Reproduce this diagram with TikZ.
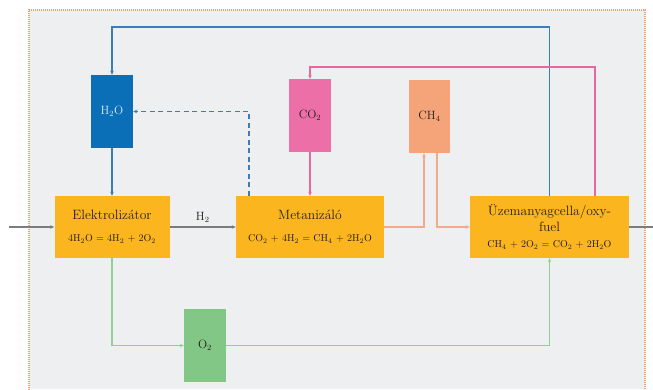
\documentclass[tikz,border=0pt]{standalone}
\usetikzlibrary{arrows.meta}
\definecolor{bgcol}{HTML}{EEEFF0}
\definecolor{framecol}{HTML}{E9A276}
\definecolor{boxyel}{HTML}{FBB51E}
\definecolor{boxblue}{HTML}{0B6FB8}
\definecolor{lineblue}{HTML}{3B7DB9}
\definecolor{boxpink}{HTML}{EC6FA8}
\definecolor{linepink}{HTML}{E9669F}
\definecolor{boxorange}{HTML}{F5A479}
\definecolor{lineorange}{HTML}{F2AA8C}
\definecolor{boxgreen}{HTML}{82C785}
\definecolor{linegreen}{HTML}{92CF94}
\definecolor{linegrey}{HTML}{7A7C7E}
\definecolor{txt}{HTML}{231E18}
\begin{document}
\begin{tikzpicture}[x=1pt,y=-1pt,
  tip/.style={-{Stealth[length=4pt,width=3.5pt]}},
  procbox/.style={draw=none,fill=boxyel,inner sep=0pt,align=center,text=txt,
    font=\fontsize{13.5}{17}\selectfont},
  substbox/.style={draw=none,inner sep=0pt,minimum width=42pt,minimum height=73pt,
    text=txt,font=\fontsize{12}{14}\selectfont},
  blueln/.style={draw=lineblue,line width=1.4pt},
  pinkln/.style={draw=linepink,line width=1.1pt},
  orangeln/.style={draw=lineorange,line width=1.1pt},
  greenln/.style={draw=linegreen,line width=1.1pt},
  greyln/.style={draw=linegrey,line width=1.1pt}]
\useasboundingbox (0,0) rectangle (653,389);
\fill[bgcol] (29,10) rectangle (645,389);
\draw[framecol,line width=1.3pt,dash pattern=on 0.8pt off 1.2pt] (29,392) -- (29,10) -- (645,10) -- (645,392);

% process boxes
\node[procbox,minimum width=115pt,minimum height=62pt] (elek) at (112,227)
  {Elektrolizátor\\[5pt]{\fontsize{10}{12}\selectfont 4H$_2$O = 4H$_2$ + 2O$_2$}};
\node[procbox,minimum width=148pt,minimum height=62pt] (met) at (310,227)
  {Metanizáló\\[5pt]{\fontsize{10}{12}\selectfont CO$_2$ + 4H$_2$ = CH$_4$ + 2H$_2$O}};
\node[procbox,minimum width=159pt,minimum height=62pt,font=\fontsize{13.5}{16}\selectfont] (uzem) at (549.5,227)
  {Üzemanyagcella/oxy-\\fuel\\{\fontsize{10}{12}\selectfont CH$_4$ + 2O$_2$ = CO$_2$ + 2H$_2$O}};

% substance boxes
\node[substbox,fill=boxblue,text=white!85!boxblue] (h2o) at (112,111.5) {H$_2$O};
\node[substbox,fill=boxpink] (co2) at (310,115.5) {CO$_2$};
\node[substbox,fill=boxorange,minimum width=41pt] (ch4) at (429.5,116.5) {CH$_4$};
\node[substbox,fill=boxgreen] (o2) at (205,345.5) {O$_2$};

\coordinate (in) at (9,227);
\coordinate (out) at (653,227);

% grey main flow
\draw[greyln,tip] (in) -- (elek.west);
\draw[greyln,tip] (elek.east) -- node[above=1pt,text=txt,font=\fontsize{12}{14}\selectfont] (h2lbl) {H$_2$} (met.west);
\draw[greyln] (uzem.east) -- (out);

% blue
\draw[blueln,tip] (uzem.north) -- (uzem.north |- 0,27) -| (h2o.north);
\draw[blueln,tip] (h2o.south) -- (elek.north);
\draw[blueln,dash pattern=on 5pt off 3.5pt,tip] (met.north -| 249,0) |- (h2o.east);

% pink
\draw[pinkln,tip] (uzem.north -| 595,0) |- (co2.north |- 0,67) -- (co2.north);
\draw[pinkln,tip] (co2.south) -- (met.north);

% orange
\draw[orangeln,tip] (met.east) -| ([xshift=-5.5pt]ch4.south);
\draw[orangeln,tip] ([xshift=7.5pt]ch4.south) |- (uzem.west);

% green
\draw[greenln,tip] (elek.south) |- (o2.west);
\draw[greenln,tip] (o2.east) -| (uzem.south);
\end{tikzpicture}
\end{document}
